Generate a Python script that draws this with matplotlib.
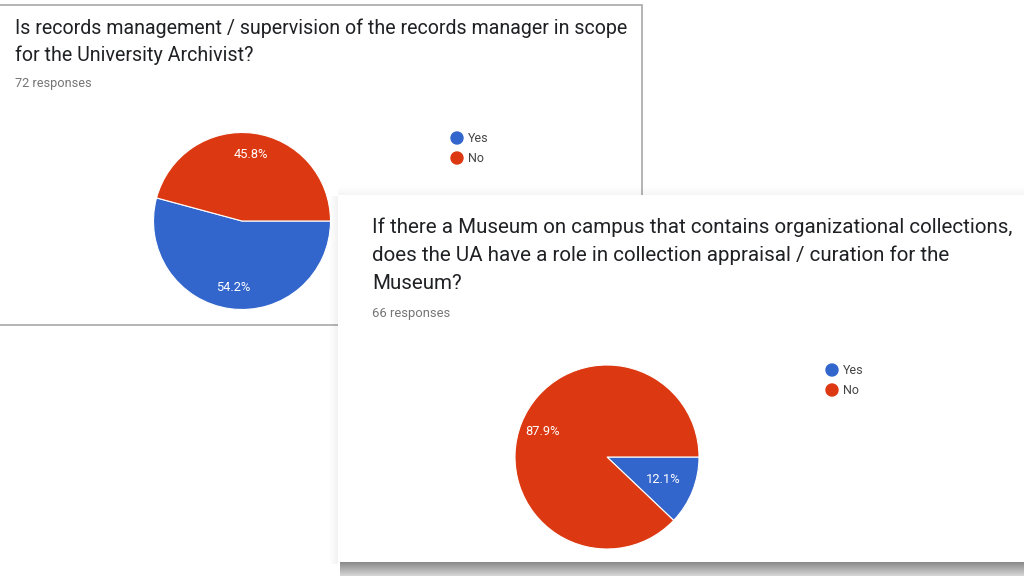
import numpy as np
import matplotlib
matplotlib.use("Agg")
import matplotlib.pyplot as plt
from matplotlib.patches import Rectangle, Circle

plt.rcParams['font.family'] = ['Roboto', 'DejaVu Sans']

W, H = 1024, 576

# data
labels = ["Yes", "No"]
colors = ["#3366cc", "#dc3912"]

q1_title = ["Is records management / supervision of the records manager in scope",
            "for the University Archivist?"]
q1_responses = 72
q1_share = [54.2, 45.8]

q2_title = ["If there a Museum on campus that contains organizational collections,",
            "does the UA have a role in collection appraisal / curation for the",
            "Museum?"]
q2_responses = 66
q2_share = [12.1, 87.9]

fig = plt.figure(figsize=(W / 100, H / 100), dpi=100)
fig.patch.set_facecolor("white")
bg = fig.add_axes([0, 0, 1, 1])
bg.set_xlim(0, W)
bg.set_ylim(H, 0)
bg.axis("off")


def pie_axes(cx, cy, r):
    # axes in pixel coords -> figure fraction
    return fig.add_axes([(cx - r) / W, 1 - (cy + r) / H, 2 * r / W, 2 * r / H])


def draw_pie(cx, cy, r, share, label_dist, z):
    ax = pie_axes(cx, cy, r)
    ax.set_zorder(z)
    wedges, _, autotexts = ax.pie(share, colors=colors, startangle=0, counterclock=False,
                                  autopct="%.1f%%", pctdistance=0.75,
                                  wedgeprops=dict(edgecolor="white", linewidth=0.8),
                                  textprops=dict(color="white", fontsize=9.3))
    for w, t, d in zip(wedges, autotexts, label_dist):
        mid = np.deg2rad((w.theta1 + w.theta2) / 2)
        t.set_position((d * np.cos(mid), d * np.sin(mid)))
    ax.set_xlim(-1, 1)
    ax.set_ylim(-1, 1)
    ax.set_aspect("auto")
    ax.axis("off")
    return ax


def legend(x, y, z, fs):
    for i, (lab, c) in enumerate(zip(labels, colors)):
        bg.add_patch(Circle((x, y + 20 * i), 6, color=c, zorder=z))
        bg.text(x + 11, y + 20 * i, lab, fontsize=fs, color="#444444",
                va="center", ha="left", zorder=z)


# card 1
bg.add_patch(Rectangle((-5, 4.5), 647, 320, facecolor="white", edgecolor="#a8a8a8",
                       linewidth=1.2, zorder=1))
for i, line in enumerate(q1_title):
    bg.text(15, 34 + 27 * i, line, fontsize=14.1, color="#202124", va="baseline", zorder=2)
bg.text(15, 87, f"{q1_responses} responses", fontsize=9.2, color="#757575",
        va="baseline", zorder=2)
legend(457, 138, 2, 9.0)
draw_pie(242, 221, 88.5, q1_share, [0.76, 0.76], 2)

# card 2 shadow
for k in range(15):
    g = 0.52 + 0.022 * k
    bg.add_patch(Rectangle((340, 561 + k), 700, 1.2, facecolor=(g, g, g), edgecolor="none",
                           zorder=3))
for k in range(8):
    a = 0.05 * (8 - k) / 8
    bg.add_patch(Rectangle((337 - k, 196), 1, 368, facecolor=(0, 0, 0, a), edgecolor="none",
                           zorder=3))
    bg.add_patch(Rectangle((338, 194 - k), 700, 1, facecolor=(0, 0, 0, a * 0.8),
                           edgecolor="none", zorder=3))
bg.add_patch(Rectangle((338, 195), 700, 367, facecolor="white", edgecolor="none", zorder=4))
for i, line in enumerate(q2_title):
    bg.text(372, 233 + 28 * i, line, fontsize=14.75, color="#202124", va="baseline", zorder=5)
bg.text(372, 317, f"{q2_responses} responses", fontsize=9.4, color="#757575",
        va="baseline", zorder=5)
legend(832, 370, 5, 9.0)
draw_pie(607, 457, 92, q2_share, [0.66, 0.75], 5)

fig.savefig("out.png", dpi=100, facecolor="white")
